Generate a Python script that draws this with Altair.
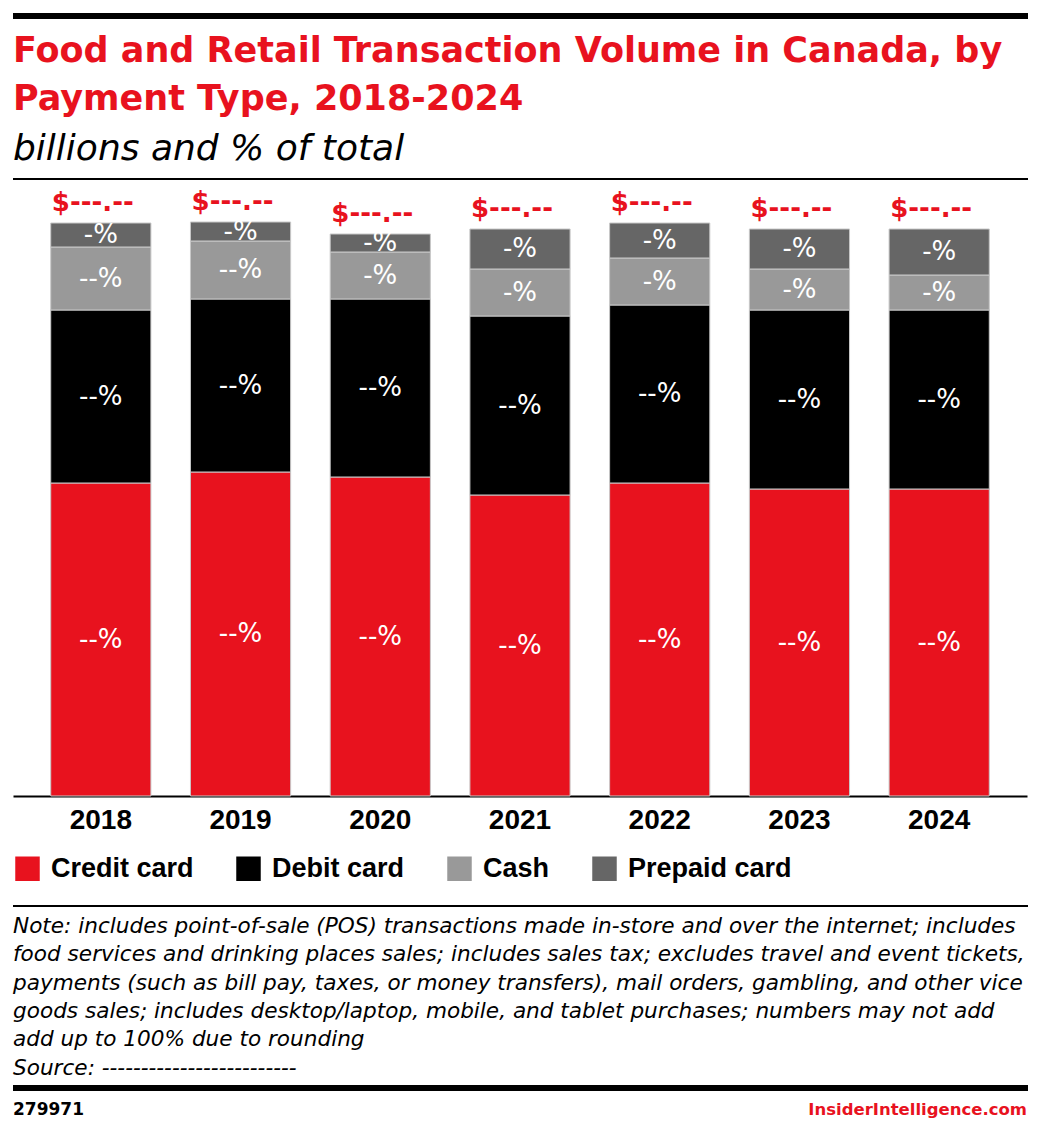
import altair as alt
import pandas as pd

# ---------------- data ----------------
years = ["2018", "2019", "2020", "2021", "2022", "2023", "2024"]
types = ["Credit card", "Debit card", "Cash", "Prepaid card"]
credit = [156.5, 162.0, 159.5, 150.5, 156.5, 153.5, 153.5]
debit = [86.5, 86.5, 89.0, 89.5, 89.0, 89.5, 89.5]
cash = [31.5, 29.0, 23.5, 23.5, 23.5, 20.5, 17.5]
prepaid = [12.0, 9.5, 9.0, 20.0, 17.5, 20.0, 23.0]
credit_lbl = ["--%"] * 7
debit_lbl = ["--%"] * 7
cash_lbl = ["--%", "--%", "-%", "-%", "-%", "-%", "-%"]
prepaid_lbl = ["-%"] * 7
total_lbl = ["$---.--"] * 7

title_lines = ["Food and Retail Transaction Volume in Canada, by", "Payment Type, 2018-2024"]
subtitle = "billions and % of total"
note_lines = [
    "Note: includes point-of-sale (POS) transactions made in-store and over the internet; includes",
    "food services and drinking places sales; includes sales tax; excludes travel and event tickets,",
    "payments (such as bill pay, taxes, or money transfers), mail orders, gambling, and other vice",
    "goods sales; includes desktop/laptop, mobile, and tablet purchases; numbers may not add",
    "add up to 100% due to rounding",
    "Source: -------------------------",
]
chart_id = "279971"
brand = "InsiderIntelligence.com"

RED = "#e8121e"
colors = [RED, "#000000", "#999999", "#666666"]

rows = []
for i, y in enumerate(years):
    for k, (t, vals, lbls) in enumerate(zip(types, [credit, debit, cash, prepaid],
                                            [credit_lbl, debit_lbl, cash_lbl, prepaid_lbl])):
        rows.append({"year": y, "type": t, "value": vals[i], "ord": k, "label": lbls[i]})
df = pd.DataFrame(rows)
tot = pd.DataFrame({"year": years,
                    "total": [credit[i] + debit[i] + cash[i] + prepaid[i] for i in range(len(years))],
                    "tlabel": total_lbl})

W, H = 1014, 606

xenc = alt.X("year:N", sort=years,
             scale=alt.Scale(paddingInner=0.283, paddingOuter=0.27),
             axis=alt.Axis(title=None, labelAngle=0, labelFont="Liberation Sans", labelFontSize=28,
                           labelFontWeight="bold", labelColor="black", labelPadding=10,
                           ticks=False, domainColor="black", domainWidth=2, grid=False))
yscale = alt.Scale(domain=[0, 303], nice=False, zero=True)

bars = alt.Chart(df).mark_bar(stroke="#c8c8c8", strokeWidth=1).encode(
    x=xenc,
    y=alt.Y("value:Q", stack="zero", scale=yscale, axis=None),
    color=alt.Color("type:N", sort=types, scale=alt.Scale(domain=types, range=colors),
                    legend=alt.Legend(title=None, orient="none", direction="horizontal",
                                      legendX=1, legendY=665,
                                      symbolType="square",
                                      symbolSize=600, symbolStrokeWidth=0, symbolOpacity=1,
                                      labelFont="Liberation Sans", labelFontSize=27,
                                      labelFontWeight="bold", labelColor="black",
                                      labelLimit=0,
                                      labelOffset=10, columnPadding=41)),
    order=alt.Order("ord:Q", sort="ascending"),
)

labels = alt.Chart(df).transform_stack(
    stack="value", groupby=["year"], sort=[alt.SortField("ord", order="ascending")], as_=["y0", "y1"]
).transform_calculate(mid="(datum.y0 + datum.y1) / 2").mark_text(
    color="white", font="DejaVu Sans", fontSize=26, baseline="middle", align="center"
).encode(x=xenc, y=alt.Y("mid:Q", scale=yscale, axis=None), text="label:N")

totals = alt.Chart(tot).mark_text(
    color=RED, font="DejaVu Sans", fontSize=26, fontWeight="bold", baseline="alphabetic",
    align="center", dy=-12, dx=-8
).encode(x=xenc, y=alt.Y("total:Q", scale=yscale, axis=None), text="tlabel:N")

one = pd.DataFrame({"a": [0]})


def rule(y, w):
    return alt.Chart(one).mark_rule(color="black", strokeWidth=w).encode(
        x=alt.value(0), x2=alt.value(W + 1), y=alt.value(y))


title = alt.Chart(one).mark_text(
    align="left", baseline="alphabetic", font="DejaVu Sans", fontSize=35, fontWeight="bold",
    color=RED, lineHeight=48
).encode(x=alt.value(0), y=alt.value(-128), text=alt.value(title_lines))

sub = alt.Chart(one).mark_text(
    align="left", baseline="alphabetic", font="DejaVu Sans", fontSize=36, fontStyle="italic",
    color="black"
).encode(x=alt.value(0), y=alt.value(-30), text=alt.value(subtitle))

notes = alt.Chart(one).mark_text(
    align="left", baseline="alphabetic", font="DejaVu Sans", fontSize=21.6, fontStyle="italic",
    color="black", lineHeight=28.3
).encode(x=alt.value(0), y=alt.value(743), text=alt.value(note_lines))

cid = alt.Chart(one).mark_text(
    align="left", baseline="alphabetic", font="DejaVu Sans", fontSize=17, fontWeight="bold",
    color="black"
).encode(x=alt.value(0), y=alt.value(925), text=alt.value(chart_id))

brd = alt.Chart(one).mark_text(
    align="right", baseline="alphabetic", font="DejaVu Sans", fontSize=16.5, fontWeight="bold",
    color=RED
).encode(x=alt.value(W), y=alt.value(925), text=alt.value(brand))

chart = alt.layer(
    bars, labels, totals, title, sub, notes, cid, brd,
    rule(-174, 6), rule(-11, 2), rule(716, 2), rule(898, 6)
).properties(
    width=W, height=H,
    padding={"left": 13, "top": 190, "right": 14, "bottom": 337},
    autosize=alt.AutoSizeParams(type="none"),
    background="white",
).configure_view(stroke=None)

chart.save("out.html", embed_options={"renderer": "svg", "actions": False})
